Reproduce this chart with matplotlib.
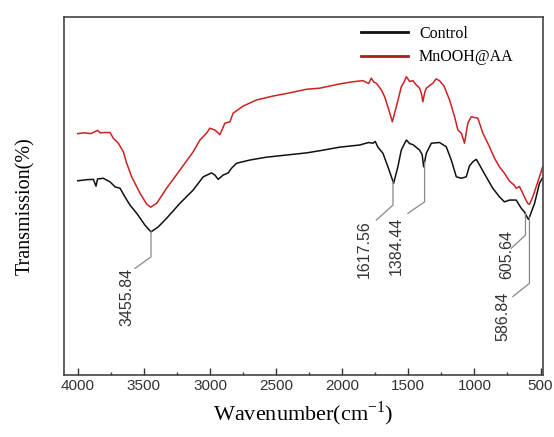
import numpy as np
import matplotlib.pyplot as plt

plt.rcParams['mathtext.fontset'] = 'custom'
plt.rcParams['mathtext.rm'] = 'Liberation Serif'

# FTIR spectra (wavenumber, transmission a.u.)
wn_aa = [4000, 3950, 3900, 3860, 3850, 3830, 3800, 3756, 3731, 3693, 3655, 3630, 3592,
         3529, 3479, 3449, 3403, 3328, 3227, 3127, 3076, 3026, 3001, 2963, 2925, 2887,
         2849, 2825, 2749, 2648, 2523, 2396, 2270, 2170, 2019, 1918, 1843, 1800, 1780,
         1760, 1742, 1720, 1704, 1679, 1647, 1621, 1591, 1553, 1530, 1515, 1490, 1465,
         1440, 1415, 1400, 1390, 1375, 1364, 1314, 1290, 1264, 1230, 1188, 1150, 1125,
         1099, 1075, 1050, 1024, 974, 936, 886, 848, 811, 773, 735, 700, 684, 660, 646,
         622, 597, 584, 559, 533, 508, 485]
t_aa = [67.4, 67.6, 67.4, 68.1, 68.3, 67.6, 67.7, 67.7, 66.1, 64.7, 62.3, 59.1, 55.3,
        50.7, 47.7, 46.8, 47.9, 52.1, 57.2, 62.3, 65.6, 67.5, 68.9, 68.4, 67.1, 70.3,
        70.7, 73.1, 75.1, 76.8, 77.9, 78.8, 79.8, 80.1, 81.3, 81.9, 82.2, 81.4, 82.9,
        81.8, 81.5, 80.4, 79.6, 77.7, 74.0, 70.7, 74.9, 80.5, 82.0, 83.3, 82.0, 82.2,
        81.0, 80.1, 78.5, 76.3, 79.0, 80.1, 81.5, 82.7, 82.2, 80.7, 76.8, 72.1, 68.4,
        67.5, 64.7, 70.3, 72.1, 71.7, 67.5, 63.7, 60.5, 58.1, 56.3, 54.1, 53.0, 52.1,
        52.6, 51.6, 49.7, 47.9, 47.6, 49.7, 52.5, 55.3, 58.0]

wn_ctrl = [4000, 3930, 3882, 3862, 3850, 3807, 3756, 3718, 3680, 3643, 3605, 3554, 3492,
           3446, 3391, 3328, 3227, 3127, 3051, 2988, 2963, 2938, 2900, 2862, 2837, 2799,
           2698, 2572, 2421, 2270, 2170, 2019, 1868, 1800, 1767, 1750, 1730, 1692, 1654,
           1611, 1579, 1553, 1515, 1490, 1465, 1415, 1395, 1384, 1364, 1326, 1264, 1213,
           1175, 1137, 1099, 1062, 1037, 1012, 986, 961, 911, 861, 811, 773, 735, 684,
           646, 622, 597, 590, 545, 508, 485]
t_ctrl = [54.2, 54.5, 54.6, 52.7, 54.7, 54.9, 53.9, 52.5, 52.1, 49.7, 47.4, 45.1, 41.8,
          39.9, 41.3, 43.7, 47.9, 51.6, 55.3, 56.4, 55.8, 54.6, 55.8, 56.4, 57.7, 59.1,
          60.0, 60.8, 61.4, 62.0, 62.6, 63.6, 64.2, 64.9, 64.7, 65.2, 63.6, 61.9, 58.1,
          53.5, 58.1, 62.8, 65.6, 64.6, 64.3, 62.8, 61.5, 58.1, 61.9, 64.7, 64.9, 63.7,
          60.0, 55.3, 54.9, 55.3, 58.4, 59.5, 60.2, 58.6, 55.3, 52.1, 49.7, 48.3, 48.8,
          48.8, 46.5, 45.5, 43.7, 43.4, 47.9, 53.5, 55.0]

peak_wn = [3446, 1616, 1377, 614, 584]
peak_txt = ['3455.84', '1617.56', '1384.44', '605.64', '586.84']

fig = plt.figure(figsize=(5.54, 4.37), dpi=100)
ax = fig.add_axes([0.1155, 0.143, 0.8645, 0.818])

ax.plot(wn_aa, t_aa, color='#cc2222', lw=1.1, label='MnOOH@AA')
ax.plot(wn_ctrl, t_ctrl, color='#111111', lw=1.1, label='Control')

# leader lines: (vertical end, diagonal end x, diagonal end y, text x, text top)
leaders = [(32.9, 3567, 29.7, 3630, 29.7),
           (47.4, 1742, 43.2, 1830, 43.2),
           (48.3, 1503, 45.1, 1591, 44.1),
           (39.0, 722, 35.3, 757, 40.4),
           (25.5, 710, 21.8, 786, 23.2)]
for w, txt, (yv, xd, yd, xt, yt) in zip(peak_wn, peak_txt, leaders):
    y0 = np.interp(w, wn_ctrl[::-1], t_ctrl[::-1])
    ax.plot([w, w, xd], [y0, yv, yd], color='#888888', lw=0.9)
    ax.text(xt, yt, txt, rotation=90, ha='center', va='top',
            family='Liberation Sans', fontsize=11.5, color='#333333')

ax.set_xlim(4104, 482)
ax.set_ylim(0, 100)
ax.set_xticks([4000, 3500, 3000, 2500, 2000, 1500, 1000, 500])
ax.set_xticks(np.arange(3750, 480, -500), minor=True)
ax.set_yticks([])
ax.tick_params(axis='x', which='major', direction='in', length=5, width=1,
               pad=3, labelsize=11, colors='#333333', labelcolor='#333333')
ax.tick_params(axis='x', which='minor', direction='in', length=2.5, width=1, colors='#333333')
for lab in ax.get_xticklabels():
    lab.set_family('Liberation Sans')
for s in ax.spines.values():
    s.set_color('#444444')
    s.set_linewidth(1.2)

ax.set_xlabel(r'Wavenumber(cm$^{\mathrm{-1}}$)', family='Liberation Serif', fontsize=16, labelpad=5)
ax.set_ylabel('Transmission(%)', family='Liberation Serif', fontsize=14.5)
ax.yaxis.set_label_coords(-0.06, 0.47)

h, l = ax.get_legend_handles_labels()
leg = ax.legend(h[::-1], l[::-1], loc='upper left', bbox_to_anchor=(0.621, 0.975),
                frameon=False, borderpad=0, borderaxespad=0, handlelength=2.9,
                handletextpad=0.7, labelspacing=0.45,
                prop={'family': 'Liberation Serif', 'size': 11.5})
for line in leg.get_lines():
    line.set_linewidth(2)
leg.get_lines()[1].set_color('#b01c20')

fig.savefig('out.png', dpi=100)
